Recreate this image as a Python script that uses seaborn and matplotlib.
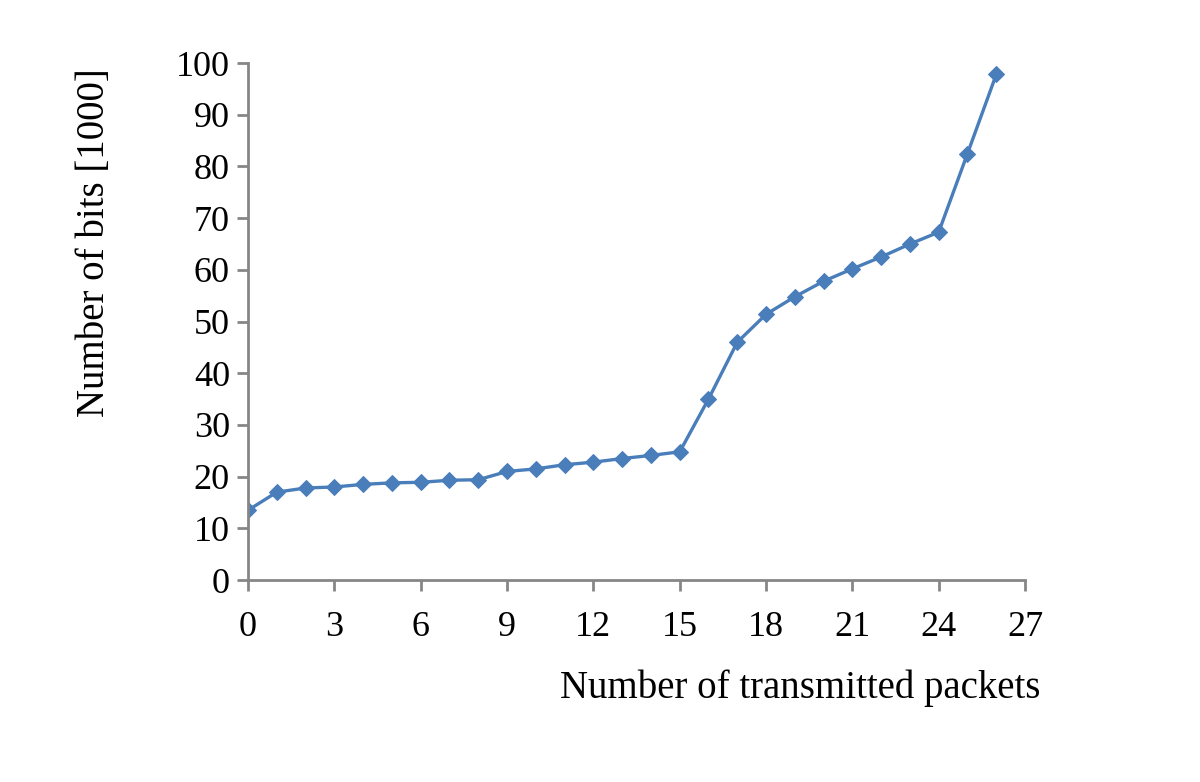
import matplotlib
matplotlib.use("Agg")
import matplotlib.pyplot as plt
import seaborn as sns
import pandas as pd

packets = list(range(27))
bits_k = [13.5, 17.0, 17.8, 18.0, 18.5, 18.8, 18.9, 19.3, 19.4, 21.0, 21.5, 22.3, 22.8,
          23.5, 24.1, 24.8, 35.0, 46.0, 51.4, 54.8, 57.8, 60.2, 62.5, 65.0, 67.3, 82.5, 97.8]
xticks = [0, 3, 6, 9, 12, 15, 18, 21, 24, 27]
yticks = [0, 10, 20, 30, 40, 50, 60, 70, 80, 90, 100]

sns.set_style("white")
plt.rcParams['font.family'] = ['Liberation Serif', 'DejaVu Serif']

df = pd.DataFrame({"packets": packets, "bits": bits_k})

fig = plt.figure(figsize=(12, 7.82), dpi=100)
ax = fig.add_axes([0.2067, 0.2583, 0.6475, 0.661])
color = "#4a7ebb"
sns.lineplot(data=df, x="packets", y="bits", ax=ax, color=color, linewidth=2.4,
             marker="D", markersize=8, markeredgecolor=color, markerfacecolor=color)

ax.set_xlim(0, 27)
ax.set_ylim(0, 100)
ax.set_xticks(xticks)
ax.set_yticks(yticks)
ax.set_xlabel("")
ax.set_ylabel("")
for s in ["top", "right"]:
    ax.spines[s].set_visible(False)
for s in ["left", "bottom"]:
    ax.spines[s].set_color("#868686")
    ax.spines[s].set_linewidth(2)
ax.tick_params(axis="both", bottom=True, left=True, direction="out", length=8, width=2,
               color="#868686", labelsize=26, labelcolor="black")
ax.tick_params(axis="x", pad=14)
ax.tick_params(axis="y", pad=5)

fig.text(0.867, 0.12, "Number of transmitted packets", ha="right", va="center",
         fontsize=28, color="black")
fig.text(0.079, 0.69, "Number of bits [1000]", ha="center", va="center", rotation=90,
         fontsize=28, color="black")

fig.savefig("out.png", dpi=100)
